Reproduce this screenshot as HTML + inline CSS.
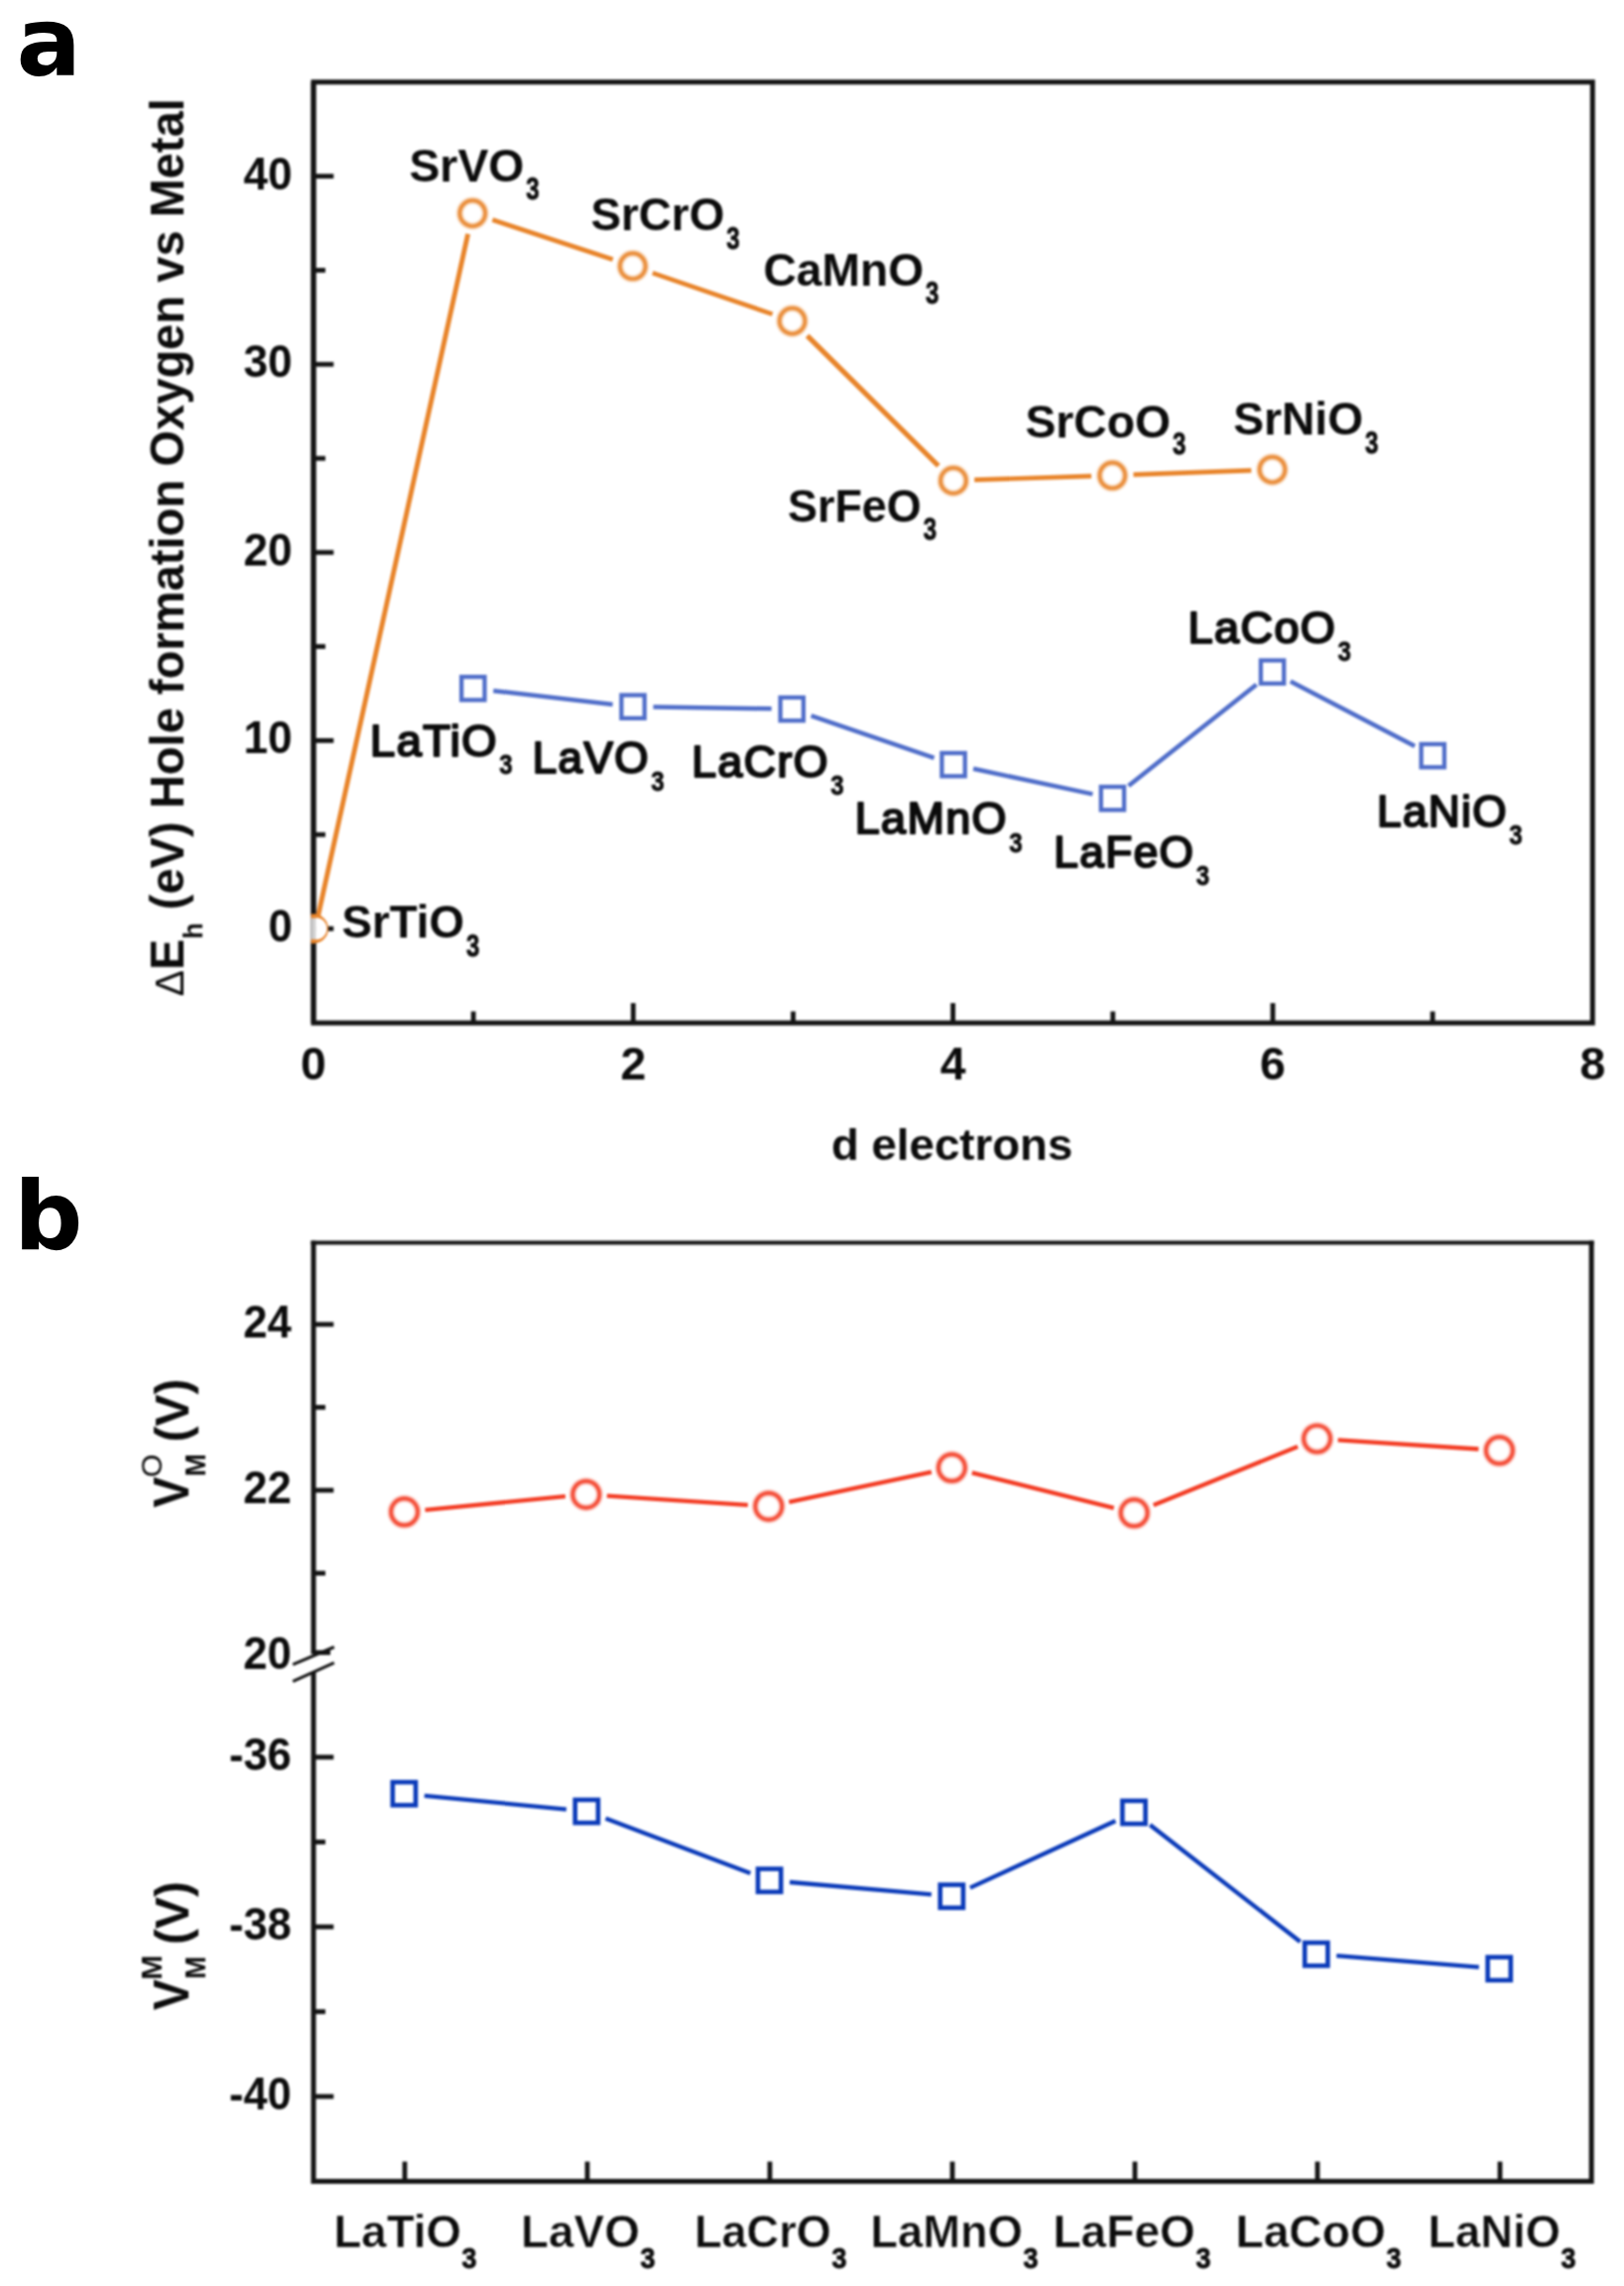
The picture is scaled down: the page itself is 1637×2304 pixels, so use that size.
<!DOCTYPE html>
<html lang="en"><head><meta charset="utf-8"><title>Figure</title>
<style>html,body{margin:0;padding:0;background:#fff}svg{display:block}</style>
</head><body>
<svg width="1637" height="2304" viewBox="0 0 1637 2304">
<defs><filter id="soft" color-interpolation-filters="sRGB" filterUnits="userSpaceOnUse" x="0" y="0" width="1637" height="2304"><feGaussianBlur stdDeviation="1.0"/></filter><filter id="x1" color-interpolation-filters="sRGB" filterUnits="userSpaceOnUse" x="0" y="0" width="1637" height="2304"><feGaussianBlur stdDeviation="0.4"/></filter><filter id="x2" color-interpolation-filters="sRGB" filterUnits="userSpaceOnUse" x="0" y="0" width="1637" height="2304"><feGaussianBlur stdDeviation="0.9"/></filter><filter id="soft2" color-interpolation-filters="sRGB" filterUnits="userSpaceOnUse" x="0" y="0" width="1637" height="2304"><feGaussianBlur stdDeviation="0.6"/></filter></defs>
<rect width="1637" height="2304" fill="#fff"/>
<g filter="url(#soft)">
<rect width="1637" height="2304" fill="#fff"/>
<rect x="316.0" y="82.7" width="1289.3" height="948.3" fill="none" stroke="#141414" stroke-width="5.0"/>
<line x1="316.0" y1="936.0" x2="336.3" y2="936.0" stroke="#141414" stroke-width="4.8"/>
<line x1="316.0" y1="841.2" x2="328.0" y2="841.2" stroke="#141414" stroke-width="4.8"/>
<line x1="316.0" y1="746.4" x2="336.3" y2="746.4" stroke="#141414" stroke-width="4.8"/>
<line x1="316.0" y1="651.6" x2="328.0" y2="651.6" stroke="#141414" stroke-width="4.8"/>
<line x1="316.0" y1="556.8" x2="336.3" y2="556.8" stroke="#141414" stroke-width="4.8"/>
<line x1="316.0" y1="462.0" x2="328.0" y2="462.0" stroke="#141414" stroke-width="4.8"/>
<line x1="316.0" y1="367.2" x2="336.3" y2="367.2" stroke="#141414" stroke-width="4.8"/>
<line x1="316.0" y1="272.4" x2="328.0" y2="272.4" stroke="#141414" stroke-width="4.8"/>
<line x1="316.0" y1="177.6" x2="336.3" y2="177.6" stroke="#141414" stroke-width="4.8"/>
<line x1="477.2" y1="1031" x2="477.2" y2="1019.4" stroke="#141414" stroke-width="4.8"/>
<line x1="638.3" y1="1031" x2="638.3" y2="1011" stroke="#141414" stroke-width="4.8"/>
<line x1="799.5" y1="1031" x2="799.5" y2="1019.4" stroke="#141414" stroke-width="4.8"/>
<line x1="960.6" y1="1031" x2="960.6" y2="1011" stroke="#141414" stroke-width="4.8"/>
<line x1="1121.8" y1="1031" x2="1121.8" y2="1019.4" stroke="#141414" stroke-width="4.8"/>
<line x1="1283.0" y1="1031" x2="1283.0" y2="1011" stroke="#141414" stroke-width="4.8"/>
<line x1="1444.1" y1="1031" x2="1444.1" y2="1019.4" stroke="#141414" stroke-width="4.8"/>
<text transform="translate(270.40,949.00) scale(0.9360,1)" font-family="Liberation Sans, Arial, sans-serif" font-weight="bold" font-size="46.5" fill="#0c0c0c" >0</text>
<text transform="translate(245.40,759.40) scale(0.9511,1)" font-family="Liberation Sans, Arial, sans-serif" font-weight="bold" font-size="46.5" fill="#0c0c0c" >10</text>
<text transform="translate(245.40,569.80) scale(0.9511,1)" font-family="Liberation Sans, Arial, sans-serif" font-weight="bold" font-size="46.5" fill="#0c0c0c" >20</text>
<text transform="translate(245.40,380.20) scale(0.9511,1)" font-family="Liberation Sans, Arial, sans-serif" font-weight="bold" font-size="46.5" fill="#0c0c0c" >30</text>
<text transform="translate(245.40,190.60) scale(0.9511,1)" font-family="Liberation Sans, Arial, sans-serif" font-weight="bold" font-size="46.5" fill="#0c0c0c" >40</text>
<text transform="translate(303.10,1088.00) scale(1.0198,1)" font-family="Liberation Sans, Arial, sans-serif" font-weight="bold" font-size="45.5" fill="#0c0c0c" >0</text>
<text transform="translate(625.42,1088.00) scale(1.0198,1)" font-family="Liberation Sans, Arial, sans-serif" font-weight="bold" font-size="45.5" fill="#0c0c0c" >2</text>
<text transform="translate(947.74,1088.00) scale(1.0198,1)" font-family="Liberation Sans, Arial, sans-serif" font-weight="bold" font-size="45.5" fill="#0c0c0c" >4</text>
<text transform="translate(1270.06,1088.00) scale(1.0198,1)" font-family="Liberation Sans, Arial, sans-serif" font-weight="bold" font-size="45.5" fill="#0c0c0c" >6</text>
<text transform="translate(1592.38,1088.00) scale(1.0198,1)" font-family="Liberation Sans, Arial, sans-serif" font-weight="bold" font-size="45.5" fill="#0c0c0c" >8</text>
<text transform="translate(837.90,1168.80) scale(1.0492,1)" font-family="Liberation Sans, Arial, sans-serif" font-weight="bold" font-size="43.5" fill="#0c0c0c" >d electrons</text>
<clipPath id="clipA"><rect x="313.5" y="82.7" width="1289.3" height="948.3"/></clipPath>
<g clip-path="url(#clipA)">
<g filter="url(#x1)">
<line x1="320.4" y1="924.3" x2="471.7" y2="235.7" stroke="#e8842a" stroke-width="4.9"/>
<line x1="496.4" y1="221.6" x2="617.7" y2="261.6" stroke="#e8842a" stroke-width="4.7"/>
<line x1="657.8" y1="275.1" x2="778.6" y2="316.6" stroke="#e8842a" stroke-width="4.7"/>
<line x1="813.7" y1="338.4" x2="945.9" y2="469.5" stroke="#e8842a" stroke-width="5.2"/>
<line x1="982.2" y1="483.7" x2="1100.1" y2="479.9" stroke="#e8842a" stroke-width="4.7"/>
<line x1="1142.5" y1="478.4" x2="1261.3" y2="474.1" stroke="#e8842a" stroke-width="4.7"/>
</g>
<g filter="url(#x2)">
<circle cx="476.3" cy="215.0" r="12.9" fill="#fff" stroke="#e8842a" stroke-width="4.5"/>
<circle cx="637.8" cy="268.2" r="12.9" fill="#fff" stroke="#e8842a" stroke-width="4.5"/>
<circle cx="798.6" cy="323.5" r="12.9" fill="#fff" stroke="#e8842a" stroke-width="4.5"/>
<circle cx="961.0" cy="484.4" r="12.9" fill="#fff" stroke="#e8842a" stroke-width="4.5"/>
<circle cx="1121.3" cy="479.2" r="12.9" fill="#fff" stroke="#e8842a" stroke-width="4.5"/>
<circle cx="1282.5" cy="473.3" r="12.9" fill="#fff" stroke="#e8842a" stroke-width="4.5"/>
</g>
</g>
<g filter="url(#x1)">
<line x1="497.3" y1="696.2" x2="617.6" y2="709.9" stroke="#4f6dc9" stroke-width="4.5"/>
<line x1="658.5" y1="712.5" x2="777.7" y2="714.3" stroke="#4f6dc9" stroke-width="4.5"/>
<line x1="817.6" y1="721.3" x2="941.6" y2="763.9" stroke="#4f6dc9" stroke-width="4.5"/>
<line x1="981.1" y1="774.8" x2="1101.4" y2="800.4" stroke="#4f6dc9" stroke-width="4.5"/>
<line x1="1137.6" y1="791.9" x2="1266.5" y2="690.0" stroke="#4f6dc9" stroke-width="4.5"/>
<line x1="1300.8" y1="686.8" x2="1426.1" y2="752.1" stroke="#4f6dc9" stroke-width="4.5"/>
</g>
<rect x="465.2" y="682.2" width="23.3" height="23.3" fill="#fff" stroke="#4f6dc9" stroke-width="4.3"/>
<rect x="626.4" y="700.6" width="23.3" height="23.3" fill="#fff" stroke="#4f6dc9" stroke-width="4.3"/>
<rect x="786.6" y="703.0" width="23.3" height="23.3" fill="#fff" stroke="#4f6dc9" stroke-width="4.3"/>
<rect x="949.4" y="759.0" width="23.3" height="23.3" fill="#fff" stroke="#4f6dc9" stroke-width="4.3"/>
<rect x="1109.8" y="793.0" width="23.3" height="23.3" fill="#fff" stroke="#4f6dc9" stroke-width="4.3"/>
<rect x="1270.9" y="665.6" width="23.3" height="23.3" fill="#fff" stroke="#4f6dc9" stroke-width="4.3"/>
<rect x="1432.6" y="750.0" width="23.3" height="23.3" fill="#fff" stroke="#4f6dc9" stroke-width="4.3"/>
<line x1="316.0" y1="82.7" x2="316.0" y2="1031" stroke="#141414" stroke-width="5.0"/>
<g clip-path="url(#clipA)">
<circle cx="316.0" cy="936" r="12.9" fill="#fff" fill-opacity="0.8" stroke="#e8842a" stroke-width="4.2"/>
<path d="M318.5,925 A11 11 0 0 1 318.5,947 Z" fill="#fff"/>
</g>
<text transform="translate(344.40,944.80) scale(0.9908,1)" font-family="Liberation Sans, Arial, sans-serif" font-weight="bold" font-size="46.2" fill="#0c0c0c" >SrTiO</text>
<text transform="translate(470.00,964.20) scale(0.7902,1)" font-family="Liberation Sans, Arial, sans-serif" font-weight="bold" font-size="30.5" fill="#0c0c0c" stroke="#0c0c0c" stroke-width="0.8">3</text>
<text transform="translate(412.40,182.80) scale(1.0039,1)" font-family="Liberation Sans, Arial, sans-serif" font-weight="bold" font-size="46.2" fill="#0c0c0c" >SrVO</text>
<text transform="translate(530.20,201.20) scale(0.7902,1)" font-family="Liberation Sans, Arial, sans-serif" font-weight="bold" font-size="30.5" fill="#0c0c0c" stroke="#0c0c0c" stroke-width="0.8">3</text>
<text transform="translate(595.40,232.30) scale(0.9920,1)" font-family="Liberation Sans, Arial, sans-serif" font-weight="bold" font-size="46.2" fill="#0c0c0c" >SrCrO</text>
<text transform="translate(732.20,250.70) scale(0.7902,1)" font-family="Liberation Sans, Arial, sans-serif" font-weight="bold" font-size="30.5" fill="#0c0c0c" stroke="#0c0c0c" stroke-width="0.8">3</text>
<text transform="translate(769.40,287.50) scale(1.0006,1)" font-family="Liberation Sans, Arial, sans-serif" font-weight="bold" font-size="46.2" fill="#0c0c0c" >CaMnO</text>
<text transform="translate(933.00,305.90) scale(0.7902,1)" font-family="Liberation Sans, Arial, sans-serif" font-weight="bold" font-size="30.5" fill="#0c0c0c" stroke="#0c0c0c" stroke-width="0.8">3</text>
<text transform="translate(793.90,525.50) scale(0.9737,1)" font-family="Liberation Sans, Arial, sans-serif" font-weight="bold" font-size="46.2" fill="#0c0c0c" >SrFeO</text>
<text transform="translate(930.70,543.90) scale(0.7902,1)" font-family="Liberation Sans, Arial, sans-serif" font-weight="bold" font-size="30.5" fill="#0c0c0c" stroke="#0c0c0c" stroke-width="0.8">3</text>
<text transform="translate(1033.40,441.00) scale(1.0033,1)" font-family="Liberation Sans, Arial, sans-serif" font-weight="bold" font-size="46.2" fill="#0c0c0c" >SrCoO</text>
<text transform="translate(1182.00,458.00) scale(0.7902,1)" font-family="Liberation Sans, Arial, sans-serif" font-weight="bold" font-size="30.5" fill="#0c0c0c" stroke="#0c0c0c" stroke-width="0.8">3</text>
<text transform="translate(1243.20,438.40) scale(0.9998,1)" font-family="Liberation Sans, Arial, sans-serif" font-weight="bold" font-size="46.2" fill="#0c0c0c" >SrNiO</text>
<text transform="translate(1375.90,456.80) scale(0.7902,1)" font-family="Liberation Sans, Arial, sans-serif" font-weight="bold" font-size="30.5" fill="#0c0c0c" stroke="#0c0c0c" stroke-width="0.8">3</text>
<text transform="translate(373.00,761.50) scale(1.0190,1)" font-family="Liberation Sans, Arial, sans-serif" font-weight="normal" font-size="44.5" letter-spacing="1.4" fill="#0c0c0c" stroke="#0c0c0c" stroke-width="2.2" stroke-linejoin="round">LaTiO</text>
<text transform="translate(503.20,779.90) scale(0.8456,1)" font-family="Liberation Sans, Arial, sans-serif" font-weight="bold" font-size="28.5" fill="#0c0c0c" stroke="#0c0c0c" stroke-width="0.8">3</text>
<text transform="translate(536.70,779.00) scale(0.9899,1)" font-family="Liberation Sans, Arial, sans-serif" font-weight="normal" font-size="44.5" letter-spacing="1.4" fill="#0c0c0c" stroke="#0c0c0c" stroke-width="2.2" stroke-linejoin="round">LaVO</text>
<text transform="translate(656.20,797.40) scale(0.8456,1)" font-family="Liberation Sans, Arial, sans-serif" font-weight="bold" font-size="28.5" fill="#0c0c0c" stroke="#0c0c0c" stroke-width="0.8">3</text>
<text transform="translate(697.30,782.50) scale(1.0038,1)" font-family="Liberation Sans, Arial, sans-serif" font-weight="normal" font-size="44.5" letter-spacing="1.4" fill="#0c0c0c" stroke="#0c0c0c" stroke-width="2.2" stroke-linejoin="round">LaCrO</text>
<text transform="translate(837.20,800.90) scale(0.8456,1)" font-family="Liberation Sans, Arial, sans-serif" font-weight="bold" font-size="28.5" fill="#0c0c0c" stroke="#0c0c0c" stroke-width="0.8">3</text>
<text transform="translate(861.70,840.30) scale(1.0083,1)" font-family="Liberation Sans, Arial, sans-serif" font-weight="normal" font-size="44.5" letter-spacing="1.4" fill="#0c0c0c" stroke="#0c0c0c" stroke-width="2.2" stroke-linejoin="round">LaMnO</text>
<text transform="translate(1017.20,858.70) scale(0.8456,1)" font-family="Liberation Sans, Arial, sans-serif" font-weight="bold" font-size="28.5" fill="#0c0c0c" stroke="#0c0c0c" stroke-width="0.8">3</text>
<text transform="translate(1062.30,874.00) scale(0.9934,1)" font-family="Liberation Sans, Arial, sans-serif" font-weight="normal" font-size="44.5" letter-spacing="1.4" fill="#0c0c0c" stroke="#0c0c0c" stroke-width="2.2" stroke-linejoin="round">LaFeO</text>
<text transform="translate(1205.70,892.40) scale(0.8456,1)" font-family="Liberation Sans, Arial, sans-serif" font-weight="bold" font-size="28.5" fill="#0c0c0c" stroke="#0c0c0c" stroke-width="0.8">3</text>
<text transform="translate(1197.60,648.00) scale(1.0116,1)" font-family="Liberation Sans, Arial, sans-serif" font-weight="normal" font-size="44.5" letter-spacing="1.4" fill="#0c0c0c" stroke="#0c0c0c" stroke-width="2.2" stroke-linejoin="round">LaCoO</text>
<text transform="translate(1348.60,666.40) scale(0.8456,1)" font-family="Liberation Sans, Arial, sans-serif" font-weight="bold" font-size="28.5" fill="#0c0c0c" stroke="#0c0c0c" stroke-width="0.8">3</text>
<text transform="translate(1388.00,832.70) scale(0.9906,1)" font-family="Liberation Sans, Arial, sans-serif" font-weight="normal" font-size="44.5" letter-spacing="1.4" fill="#0c0c0c" stroke="#0c0c0c" stroke-width="2.2" stroke-linejoin="round">LaNiO</text>
<text transform="translate(1521.20,851.10) scale(0.8456,1)" font-family="Liberation Sans, Arial, sans-serif" font-weight="bold" font-size="28.5" fill="#0c0c0c" stroke="#0c0c0c" stroke-width="0.8">3</text>
<text transform="translate(185.2,1004.20) rotate(-90) scale(0.9678,1)" font-family="Liberation Sans, Arial, sans-serif" font-weight="bold" font-size="48.6" fill="#0c0c0c"><tspan font-weight="normal" font-size="41">Δ</tspan>E<tspan font-size="27.5" dy="18.5">h</tspan><tspan dy="-18.5"> (eV) Hole formation Oxygen vs Metal</tspan></text>
<path d="M316.0,1667 V1250.6 M1604.2,1250.6 V2198.6 H313.5 M316.0,2198.6 V1686" fill="none" stroke="#141414" stroke-width="5.0" stroke-linejoin="miter"/>
<line x1="313.5" y1="1252.5" x2="1606.7" y2="1252.5" stroke="#141414" stroke-width="3.8"/>
<line x1="295.2" y1="1677.6" x2="336.8" y2="1660" stroke="#141414" stroke-width="3"/>
<line x1="295.2" y1="1694.6" x2="336.8" y2="1675.8" stroke="#141414" stroke-width="3"/>
<line x1="316.0" y1="1334.8" x2="336.3" y2="1334.8" stroke="#141414" stroke-width="4.8"/>
<line x1="316.0" y1="1418.4" x2="328.0" y2="1418.4" stroke="#141414" stroke-width="4.8"/>
<line x1="316.0" y1="1502" x2="336.3" y2="1502" stroke="#141414" stroke-width="4.8"/>
<line x1="316.0" y1="1585.6" x2="328.0" y2="1585.6" stroke="#141414" stroke-width="4.8"/>
<line x1="316.0" y1="1665.6" x2="333" y2="1665.6" stroke="#141414" stroke-width="4.8"/>
<line x1="316.0" y1="1771" x2="336.3" y2="1771" stroke="#141414" stroke-width="4.8"/>
<line x1="316.0" y1="1856.5" x2="328.0" y2="1856.5" stroke="#141414" stroke-width="4.8"/>
<line x1="316.0" y1="1942" x2="336.3" y2="1942" stroke="#141414" stroke-width="4.8"/>
<line x1="316.0" y1="2027.5" x2="328.0" y2="2027.5" stroke="#141414" stroke-width="4.8"/>
<line x1="316.0" y1="2113" x2="336.3" y2="2113" stroke="#141414" stroke-width="4.8"/>
<line x1="408" y1="2198.6" x2="408" y2="2178.6" stroke="#141414" stroke-width="4.8"/>
<line x1="592" y1="2198.6" x2="592" y2="2178.6" stroke="#141414" stroke-width="4.8"/>
<line x1="776" y1="2198.6" x2="776" y2="2178.6" stroke="#141414" stroke-width="4.8"/>
<line x1="960" y1="2198.6" x2="960" y2="2178.6" stroke="#141414" stroke-width="4.8"/>
<line x1="1144" y1="2198.6" x2="1144" y2="2178.6" stroke="#141414" stroke-width="4.8"/>
<line x1="1328" y1="2198.6" x2="1328" y2="2178.6" stroke="#141414" stroke-width="4.8"/>
<line x1="1512" y1="2198.6" x2="1512" y2="2178.6" stroke="#141414" stroke-width="4.8"/>
<text transform="translate(245.20,1348.20) scale(0.9395,1)" font-family="Liberation Sans, Arial, sans-serif" font-weight="bold" font-size="46.5" fill="#0c0c0c" >24</text>
<text transform="translate(245.20,1515.40) scale(0.9395,1)" font-family="Liberation Sans, Arial, sans-serif" font-weight="bold" font-size="46.5" fill="#0c0c0c" >22</text>
<text transform="translate(245.20,1682.00) scale(0.9395,1)" font-family="Liberation Sans, Arial, sans-serif" font-weight="bold" font-size="46.5" fill="#0c0c0c" >20</text>
<text transform="translate(231.00,1784.40) scale(0.9343,1)" font-family="Liberation Sans, Arial, sans-serif" font-weight="bold" font-size="46.5" fill="#0c0c0c" >-36</text>
<text transform="translate(231.00,1955.40) scale(0.9343,1)" font-family="Liberation Sans, Arial, sans-serif" font-weight="bold" font-size="46.5" fill="#0c0c0c" >-38</text>
<text transform="translate(231.00,2126.40) scale(0.9343,1)" font-family="Liberation Sans, Arial, sans-serif" font-weight="bold" font-size="46.5" fill="#0c0c0c" >-40</text>
<g filter="url(#x1)">
<line x1="428.5" y1="1521.8" x2="569.9" y2="1508.2" stroke="#f33c24" stroke-width="4.3"/>
<line x1="611.8" y1="1507.6" x2="753.8" y2="1516.8" stroke="#f33c24" stroke-width="4.3"/>
<line x1="795.3" y1="1513.9" x2="938.9" y2="1483.6" stroke="#f33c24" stroke-width="4.3"/>
<line x1="979.8" y1="1484.3" x2="1122.8" y2="1519.8" stroke="#f33c24" stroke-width="4.3"/>
<line x1="1162.7" y1="1516.9" x2="1308.1" y2="1458.0" stroke="#f33c24" stroke-width="4.3"/>
<line x1="1348.6" y1="1451.4" x2="1490.4" y2="1460.5" stroke="#f33c24" stroke-width="4.3"/>
<line x1="427.8" y1="1809.8" x2="570.9" y2="1823.6" stroke="#0a3ab9" stroke-width="4.3"/>
<line x1="610.5" y1="1832.8" x2="756.4" y2="1888.0" stroke="#0a3ab9" stroke-width="4.3"/>
<line x1="796.0" y1="1897.0" x2="938.9" y2="1909.4" stroke="#0a3ab9" stroke-width="4.3"/>
<line x1="977.9" y1="1902.6" x2="1124.4" y2="1835.2" stroke="#0a3ab9" stroke-width="4.3"/>
<line x1="1159.2" y1="1839.2" x2="1310.6" y2="1957.0" stroke="#0a3ab9" stroke-width="4.3"/>
<line x1="1347.2" y1="1971.2" x2="1490.8" y2="1982.6" stroke="#0a3ab9" stroke-width="4.3"/>
</g>
<g filter="url(#x2)">
<circle cx="407.6" cy="1523.8" r="13.5" fill="#fff" stroke="#f33c24" stroke-width="4.4"/>
<circle cx="590.8" cy="1506.2" r="13.5" fill="#fff" stroke="#f33c24" stroke-width="4.4"/>
<circle cx="774.8" cy="1518.2" r="13.5" fill="#fff" stroke="#f33c24" stroke-width="4.4"/>
<circle cx="959.4" cy="1479.3" r="13.5" fill="#fff" stroke="#f33c24" stroke-width="4.4"/>
<circle cx="1143.2" cy="1524.8" r="13.5" fill="#fff" stroke="#f33c24" stroke-width="4.4"/>
<circle cx="1327.6" cy="1450.1" r="13.5" fill="#fff" stroke="#f33c24" stroke-width="4.4"/>
<circle cx="1511.4" cy="1461.8" r="13.5" fill="#fff" stroke="#f33c24" stroke-width="4.4"/>
</g>
<rect x="395.8" y="1796.2" width="23.2" height="23.2" fill="#fff" stroke="#0a3ab9" stroke-width="4.6"/>
<rect x="579.7" y="1814.0" width="23.2" height="23.2" fill="#fff" stroke="#0a3ab9" stroke-width="4.6"/>
<rect x="764.0" y="1883.6" width="23.2" height="23.2" fill="#fff" stroke="#0a3ab9" stroke-width="4.6"/>
<rect x="947.7" y="1899.6" width="23.2" height="23.2" fill="#fff" stroke="#0a3ab9" stroke-width="4.6"/>
<rect x="1131.4" y="1815.0" width="23.2" height="23.2" fill="#fff" stroke="#0a3ab9" stroke-width="4.6"/>
<rect x="1315.2" y="1958.0" width="23.2" height="23.2" fill="#fff" stroke="#0a3ab9" stroke-width="4.6"/>
<rect x="1499.6" y="1972.6" width="23.2" height="23.2" fill="#fff" stroke="#0a3ab9" stroke-width="4.6"/>
<text transform="translate(336.40,2265.30) scale(0.9865,1)" font-family="Liberation Sans, Arial, sans-serif" font-weight="bold" font-size="46.3" fill="#0c0c0c" stroke="#fff" stroke-width="0.5">LaTiO</text>
<text transform="translate(465.60,2285.60) scale(0.9145,1)" font-family="Liberation Sans, Arial, sans-serif" font-weight="bold" font-size="29.5" fill="#0c0c0c" stroke="#0c0c0c" stroke-width="0.8">3</text>
<text transform="translate(524.90,2265.30) scale(0.9931,1)" font-family="Liberation Sans, Arial, sans-serif" font-weight="bold" font-size="46.3" fill="#0c0c0c" stroke="#fff" stroke-width="0.5">LaVO</text>
<text transform="translate(645.60,2285.60) scale(0.9145,1)" font-family="Liberation Sans, Arial, sans-serif" font-weight="bold" font-size="29.5" fill="#0c0c0c" stroke="#0c0c0c" stroke-width="0.8">3</text>
<text transform="translate(699.90,2265.30) scale(0.9760,1)" font-family="Liberation Sans, Arial, sans-serif" font-weight="bold" font-size="46.3" fill="#0c0c0c" stroke="#fff" stroke-width="0.5">LaCrO</text>
<text transform="translate(838.60,2285.60) scale(0.9145,1)" font-family="Liberation Sans, Arial, sans-serif" font-weight="bold" font-size="29.5" fill="#0c0c0c" stroke="#0c0c0c" stroke-width="0.8">3</text>
<text transform="translate(877.40,2265.30) scale(0.9790,1)" font-family="Liberation Sans, Arial, sans-serif" font-weight="bold" font-size="46.3" fill="#0c0c0c" stroke="#fff" stroke-width="0.5">LaMnO</text>
<text transform="translate(1031.60,2285.60) scale(0.9145,1)" font-family="Liberation Sans, Arial, sans-serif" font-weight="bold" font-size="29.5" fill="#0c0c0c" stroke="#0c0c0c" stroke-width="0.8">3</text>
<text transform="translate(1061.40,2265.30) scale(0.9966,1)" font-family="Liberation Sans, Arial, sans-serif" font-weight="bold" font-size="46.3" fill="#0c0c0c" stroke="#fff" stroke-width="0.5">LaFeO</text>
<text transform="translate(1205.60,2285.60) scale(0.9145,1)" font-family="Liberation Sans, Arial, sans-serif" font-weight="bold" font-size="29.5" fill="#0c0c0c" stroke="#0c0c0c" stroke-width="0.8">3</text>
<text transform="translate(1245.40,2265.30) scale(0.9989,1)" font-family="Liberation Sans, Arial, sans-serif" font-weight="bold" font-size="46.3" fill="#0c0c0c" stroke="#fff" stroke-width="0.5">LaCoO</text>
<text transform="translate(1397.60,2285.60) scale(0.9145,1)" font-family="Liberation Sans, Arial, sans-serif" font-weight="bold" font-size="29.5" fill="#0c0c0c" stroke="#0c0c0c" stroke-width="0.8">3</text>
<text transform="translate(1439.40,2265.30) scale(0.9798,1)" font-family="Liberation Sans, Arial, sans-serif" font-weight="bold" font-size="46.3" fill="#0c0c0c" stroke="#fff" stroke-width="0.5">LaNiO</text>
<text transform="translate(1573.60,2285.60) scale(0.9145,1)" font-family="Liberation Sans, Arial, sans-serif" font-weight="bold" font-size="29.5" fill="#0c0c0c" stroke="#0c0c0c" stroke-width="0.8">3</text>
<text transform="translate(189.8,1519.5) rotate(-90) scale(0.93,1)" font-family="Liberation Sans, Arial, sans-serif" font-weight="bold" font-size="50" fill="#0c0c0c">V</text>
<text transform="translate(207.4,1488.0) rotate(-90) scale(0.95,1)" font-family="Liberation Sans, Arial, sans-serif" font-weight="bold" font-size="29" fill="#0c0c0c">M</text>
<text transform="translate(163.3,1489.0) rotate(-90)" font-family="Liberation Sans, Arial, sans-serif" font-weight="normal" font-size="30" fill="#0c0c0c">O</text>
<text transform="translate(189.8,1453.5) rotate(-90)" font-family="Liberation Sans, Arial, sans-serif" font-weight="bold" font-size="48" fill="#0c0c0c">(V)</text>
<text transform="translate(189.8,2026) rotate(-90) scale(0.93,1)" font-family="Liberation Sans, Arial, sans-serif" font-weight="bold" font-size="50" fill="#0c0c0c">V</text>
<text transform="translate(207.4,1994.5) rotate(-90) scale(0.95,1)" font-family="Liberation Sans, Arial, sans-serif" font-weight="bold" font-size="29" fill="#0c0c0c">M</text>
<text transform="translate(163.3,1995.5) rotate(-90)" font-family="Liberation Sans, Arial, sans-serif" font-weight="bold" font-size="30" fill="#0c0c0c">M</text>
<text transform="translate(189.8,1960) rotate(-90)" font-family="Liberation Sans, Arial, sans-serif" font-weight="bold" font-size="48" fill="#0c0c0c">(V)</text>
</g>
<g filter="url(#soft2)">
<text x="16.5" y="76" font-family="DejaVu Sans, Verdana, sans-serif" font-weight="bold" font-size="97" fill="#000">a</text>
<text x="14" y="1259" font-family="DejaVu Sans, Verdana, sans-serif" font-weight="bold" font-size="97" fill="#000">b</text>
</g>
</svg>
</body></html>
